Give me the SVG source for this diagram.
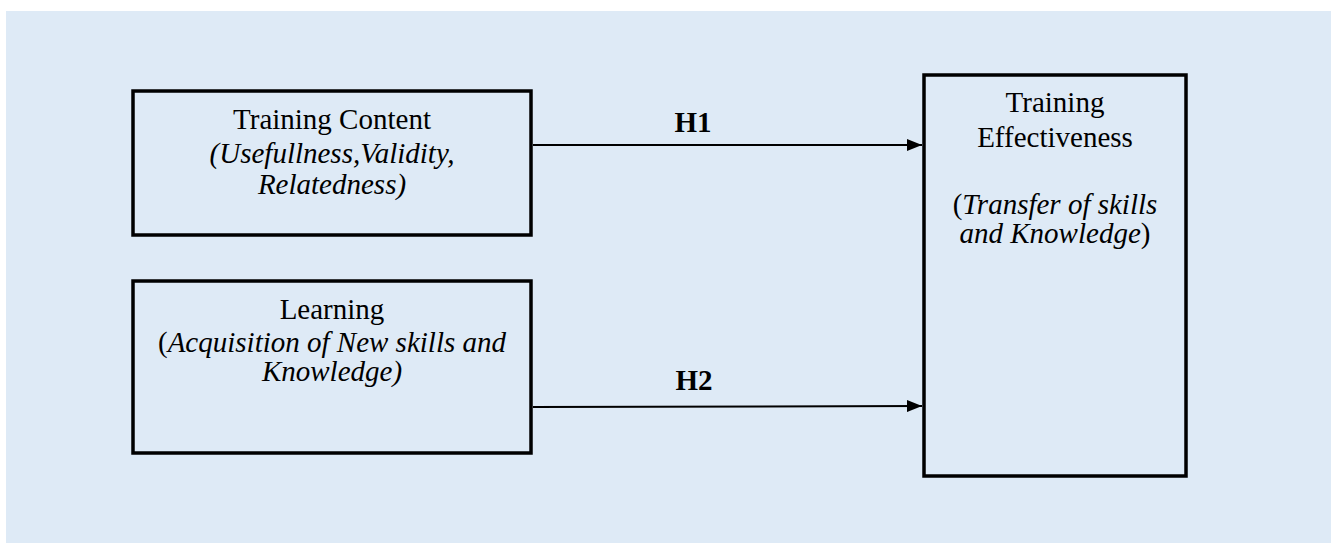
<svg xmlns="http://www.w3.org/2000/svg" width="1331" height="543" viewBox="0 0 1331 543">
<style>
.box{fill:#DEEAF6;stroke:#000;stroke-width:3.5}
.t{font-family:"Liberation Serif","Times New Roman",serif;font-size:29px;fill:#000;text-anchor:middle}
.i{font-style:italic}
.h{font-family:"Liberation Serif","Times New Roman",serif;font-size:29px;font-weight:bold;text-anchor:middle}
.c{stroke:#000;stroke-width:2;fill:none;marker-end:url(#ah)}
</style>
<defs>
<marker id="ah" markerUnits="userSpaceOnUse" markerWidth="15" markerHeight="12" refX="15" refY="6" orient="auto">
<path d="M0,0 L15,6 L0,12 Z" fill="#000"/>
</marker>
</defs>
<rect x="0" y="0" width="1331" height="543" fill="#fff"/>
<rect x="6" y="11" width="1325" height="532" fill="#DEEAF6"/>
<g id="training-content">
<rect class="box" x="133" y="91" width="398" height="144"/>
<text class="t" x="332" y="129">Training Content</text>
<text class="t i" x="332" y="163">(Usefullness,Validity,</text>
<text class="t i" x="332" y="194">Relatedness)</text>
</g>
<g id="learning">
<rect class="box" x="133" y="281" width="398" height="172"/>
<text class="t" x="332" y="319">Learning</text>
<text class="t" x="332" y="352">(<tspan class="i">Acquisition of New skills and</tspan></text>
<text class="t i" x="332" y="381">Knowledge)</text>
</g>
<g id="training-effectiveness">
<rect class="box" x="924" y="75" width="262" height="401"/>
<text class="t" x="1055" y="112">Training</text>
<text class="t" x="1055" y="147">Effectiveness</text>
<text class="t" x="1055" y="214">(<tspan class="i">Transfer of skills</tspan></text>
<text class="t" x="1055" y="243"><tspan class="i">and Knowledge</tspan>)</text>
</g>
<g id="connectors">
<line class="c" x1="533" y1="145" x2="922" y2="145"/>
<text class="h" x="693" y="132">H1</text>
<line class="c" x1="533" y1="407" x2="922" y2="406"/>
<text class="h" x="694" y="390">H2</text>
</g>
</svg>
